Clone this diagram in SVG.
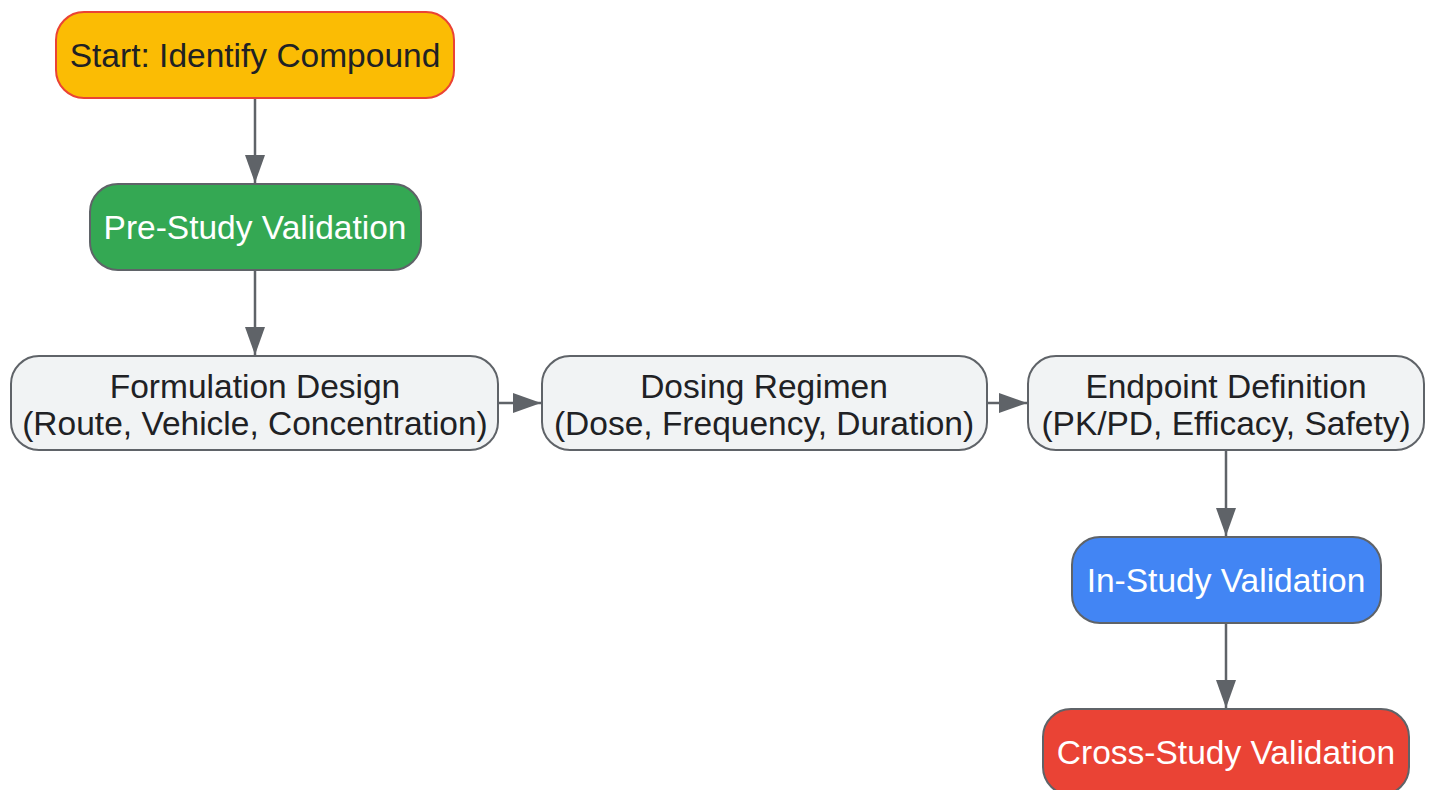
<svg xmlns="http://www.w3.org/2000/svg" width="1431" height="790" viewBox="0 0 1431 790">
<defs>
<style>
.n{stroke:#5f6368;stroke-width:2}
.t{font-family:"Liberation Sans",Arial,sans-serif;font-size:33.5px;text-anchor:middle}
.d{fill:#202124}
.w{fill:#ffffff}
.e{stroke:#5f6368;stroke-width:2.5;fill:none}
</style>
<marker id="ah" viewBox="0 0 28 20" refX="28" refY="10" markerWidth="28" markerHeight="20" markerUnits="userSpaceOnUse" orient="auto">
<path d="M0,0 L28,10 L0,20 Z" fill="#5f6368"/>
</marker>
</defs>
<rect width="1431" height="790" fill="#ffffff"/>
<g id="connectors">
<path class="e" d="M255,98 L255,183" marker-end="url(#ah)"/>
<path class="e" d="M255,270 L255,355" marker-end="url(#ah)"/>
<path class="e" d="M498,403 L541,403" marker-end="url(#ah)"/>
<path class="e" d="M987,403 L1027,403" marker-end="url(#ah)"/>
<path class="e" d="M1226,450 L1226,536" marker-end="url(#ah)"/>
<path class="e" d="M1226,623 L1226,708" marker-end="url(#ah)"/>
</g>
<g id="start">
<rect x="56" y="12" width="398" height="86" rx="28" fill="#fbbc04" stroke="#ea4335" stroke-width="2"/>
<text class="t d" x="255" y="67">Start: Identify Compound</text>
</g>
<g id="prestudy">
<rect class="n" x="90" y="184" width="331" height="86" rx="28" fill="#34a853"/>
<text class="t w" x="255" y="239">Pre-Study Validation</text>
</g>
<g id="formulation">
<rect class="n" x="11" y="356" width="487" height="94" rx="28" fill="#f1f3f4"/>
<text class="t d" x="255" y="398">Formulation Design</text>
<text class="t d" x="255" y="435">(Route, Vehicle, Concentration)</text>
</g>
<g id="dosing">
<rect class="n" x="542" y="356" width="445" height="94" rx="28" fill="#f1f3f4"/>
<text class="t d" x="764" y="398">Dosing Regimen</text>
<text class="t d" x="764" y="435">(Dose, Frequency, Duration)</text>
</g>
<g id="endpoint">
<rect class="n" x="1028" y="356" width="396" height="94" rx="28" fill="#f1f3f4"/>
<text class="t d" x="1226" y="398">Endpoint Definition</text>
<text class="t d" x="1226" y="435">(PK/PD, Efficacy, Safety)</text>
</g>
<g id="instudy">
<rect class="n" x="1072" y="537" width="309" height="86" rx="28" fill="#4285f4"/>
<text class="t w" x="1226" y="592">In-Study Validation</text>
</g>
<g id="crossstudy">
<rect class="n" x="1043" y="709" width="366" height="86" rx="28" fill="#ea4335"/>
<text class="t w" x="1226" y="764">Cross-Study Validation</text>
</g>
</svg>
